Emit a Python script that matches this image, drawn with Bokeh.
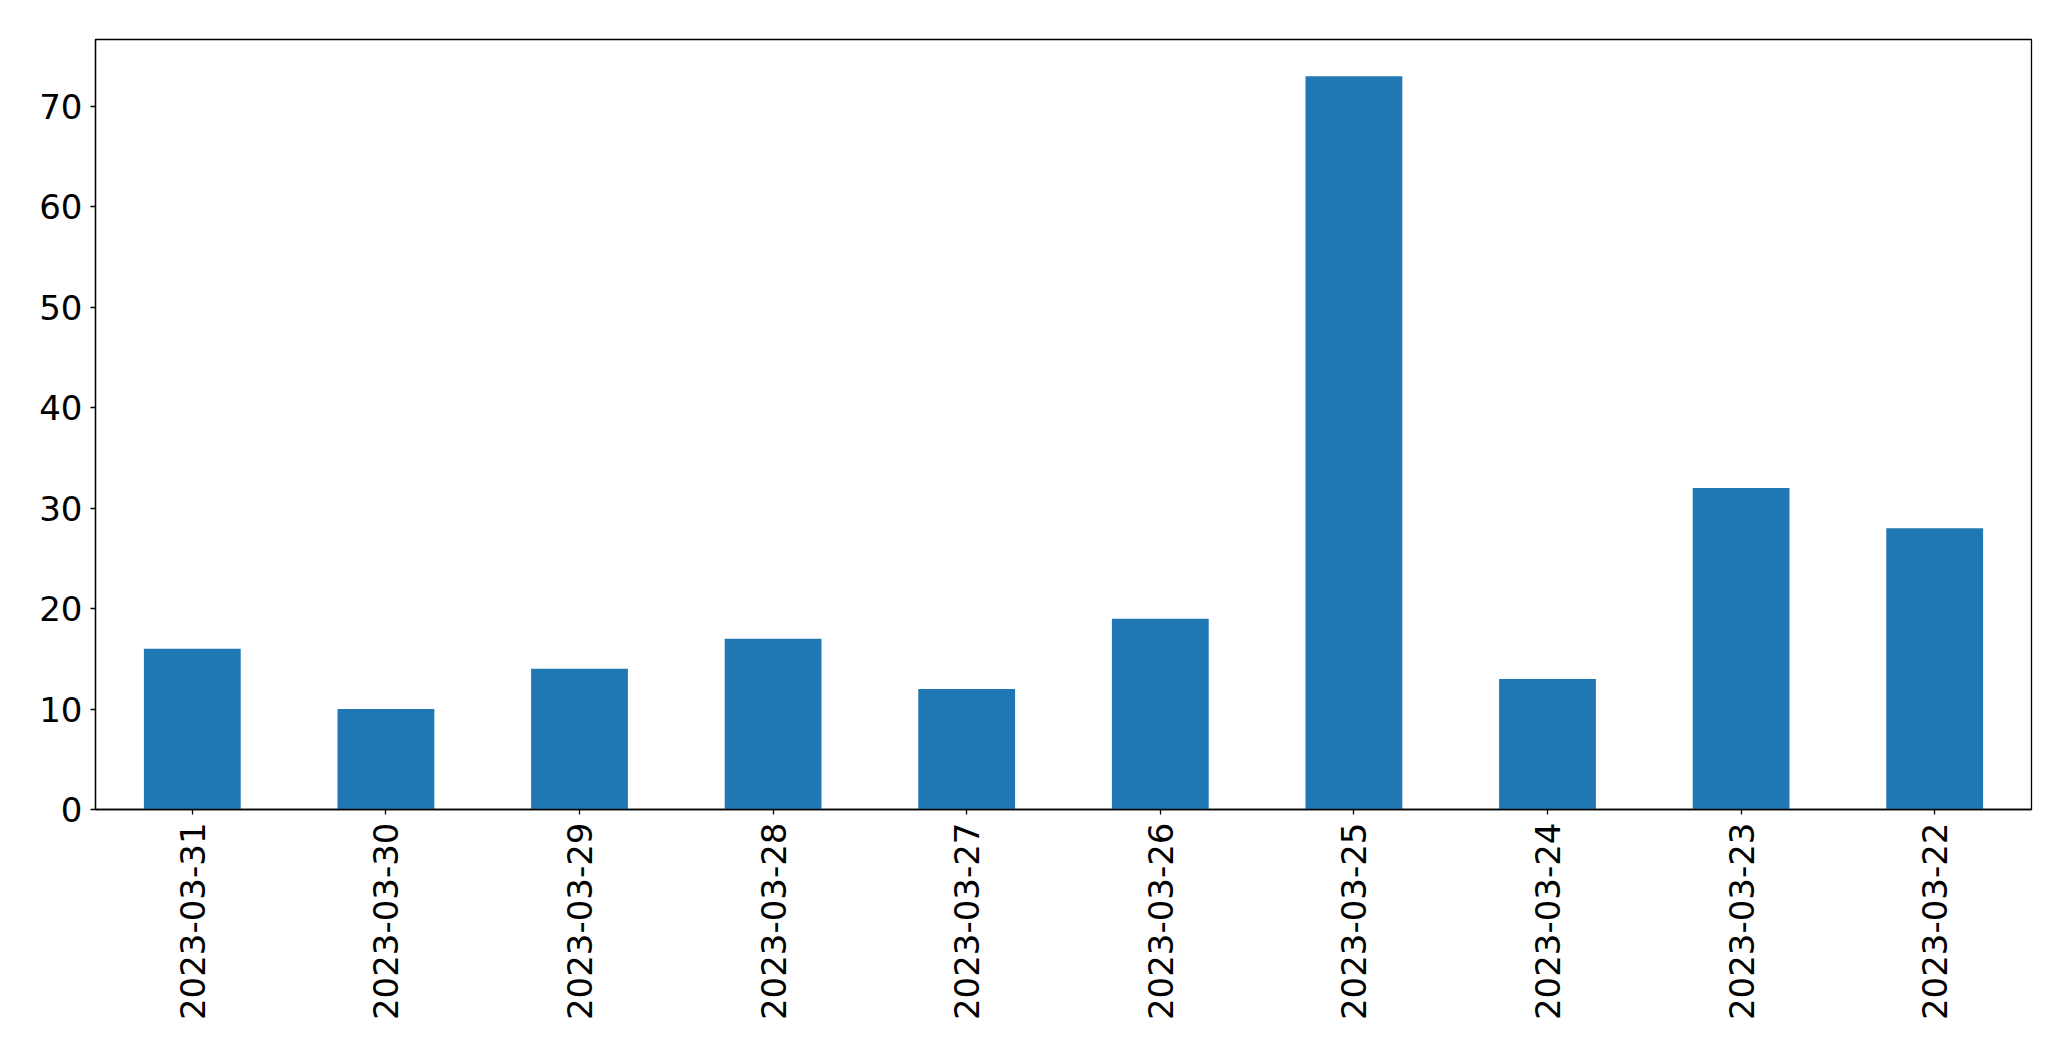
import math
from bokeh.plotting import figure
from bokeh.models import FactorRange, Range1d, FixedTicker, ColumnDataSource
from bokeh.embed import file_html
from bokeh.resources import INLINE

dates = ["2023-03-31", "2023-03-30", "2023-03-29", "2023-03-28", "2023-03-27",
         "2023-03-26", "2023-03-25", "2023-03-24", "2023-03-23", "2023-03-22"]
counts = [16, 10, 14, 17, 12, 19, 73, 13, 32, 28]
y_ticks = [0, 10, 20, 30, 40, 50, 60, 70]

src = ColumnDataSource(dict(date=dates, count=counts))

p = figure(width=2055, height=1045, output_backend="svg", toolbar_location=None,
           x_range=FactorRange(factors=dates, range_padding=0),
           y_range=Range1d(0, max(counts) * 1.05))
p.min_border_left = 95
p.min_border_right = 24
p.min_border_top = 39
p.min_border_bottom = 236

p.vbar(x="date", top="count", width=0.5, source=src, color="#1f77b4", line_color=None)

p.xgrid.visible = False
p.ygrid.visible = False
p.outline_line_color = "black"
p.outline_line_width = 1.3
p.background_fill_color = "white"
p.border_fill_color = "white"

p.yaxis.ticker = FixedTicker(ticks=y_ticks)
p.yaxis.minor_tick_line_color = None
for ax in (p.xaxis, p.yaxis):
    ax.major_label_text_font = "DejaVu Sans"
    ax.major_label_text_font_size = "34px"
    ax.major_label_text_color = "black"
    ax.major_tick_out = 5
    ax.major_tick_in = 0
    ax.major_tick_line_color = "black"
    ax.major_tick_line_width = 1.3
    ax.axis_line_color = "black"
    ax.axis_line_width = 1.3
    ax.major_label_standoff = 8
p.xaxis.major_label_orientation = math.pi / 2

open("out.html", "w").write(file_html(p, INLINE))
